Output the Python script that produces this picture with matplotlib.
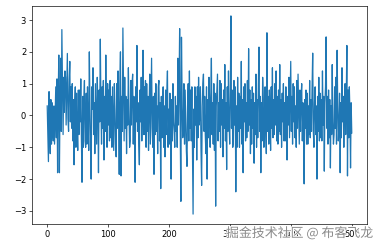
import matplotlib
matplotlib.use("Agg")
import matplotlib.pyplot as plt
import matplotlib.patheffects as pe

values = [
    0.3, -0.6, -1.45, 0.75, -0.4, -1.2, 0.5, -0.9, 0.4, -0.5,
    -0.8, 0.3, -0.9, 0.0, 0.9, -0.7, 1.15, -1.8, 0.6, 1.9,
    -1.8, 0.5, 1.8, -0.5, 2.7, 0.9, -0.6, 1.2, 0.1, 1.4,
    1.2, -0.3, 0.8, 1.95, -0.1, -0.5, 1.1, 1.7, -0.2, 0.9,
    -0.4, 1.0, -0.8, 0.5, -1.55, 0.3, 0.9, -1.0, 0.7, -0.3,
    -1.1, 0.8, -0.6, 0.8, -0.2, 1.15, -0.7, -2.1, 0.6, -1.0,
    0.5, 1.1, -0.8, -1.0, 0.7, -0.9, 0.9, -0.3, -1.1, 2.0,
    0.3, -1.0, -2.0, 0.9, 0.2, 1.5, -0.6, 0.4, -1.2, 1.0,
    0.0, -0.9, 1.2, 0.3, -1.8, 0.8, -0.2, 2.4, 0.3, -0.9,
    0.9, -0.4, 1.1, -1.4, 0.6, -0.5, 1.9, 0.0, -1.0, 1.0,
    -0.3, 0.8, -0.8, 1.1, -0.7, 0.6, -1.0, 0.9, -0.2, -1.1,
    1.0, 0.2, -0.9, -1.3, 1.0, -0.4, 1.4, 0.1, -1.85, 0.9,
    2.0, -1.9, 0.6, -0.5, 2.75, 0.8, -0.8, 1.2, -0.4, 0.6,
    -1.2, 0.5, -0.3, 1.5, 0.1, -1.0, -0.8, 1.1, -0.3, 1.0,
    1.3, -0.9, 0.6, -0.6, -2.1, 0.9, -0.2, 2.2, -0.5, 0.4,
    -0.9, -1.55, 0.8, -0.2, 1.2, -0.8, 0.5, 2.05, -0.6, 0.9,
    -0.6, 1.1, -1.0, 1.0, -0.5, 0.6, -1.1, 0.3, 1.3, -0.9,
    0.5, 1.8, -0.4, -1.0, 0.6, -1.85, 0.7, -0.6, 1.0, -0.5,
    0.3, -1.2, 0.9, 1.1, -0.8, 0.4, -2.3, 0.6, -0.7, 0.2,
    0.9, -1.0, 0.3, -1.3, 0.8, -0.6, 0.7, 1.4, -1.0, 0.2,
    -0.9, 0.7, -0.4, -2.0, 0.5, -0.8, 1.0, -0.2, -0.5, -1.0,
    0.6, -0.5, 0.3, -1.0, 1.8, -0.3, 0.9, 2.73, -0.6, -2.7,
    2.46, 0.6, -0.7, -0.5, 1.0, -0.9, 0.8, -0.2, -1.1, -1.6,
    0.3, 1.0, -0.8, 1.4, -0.4, 0.8, -0.8, 0.9, -1.2, -3.1,
    0.2, -1.0, 0.9, -0.3, 0.6, -1.4, 0.9, -0.7, 1.2, -0.3,
    0.0, 0.9, -1.1, -2.2, 0.3, 1.0, 1.3, -0.5, 0.6, -0.6,
    -1.2, 0.9, -2.0, 0.5, -0.7, 1.2, 0.5, -1.0, 0.6, 1.8,
    -0.6, 0.4, -0.9, 1.0, -1.1, 0.7, -2.85, 0.3, 0.8, 1.3,
    -0.8, 0.4, -0.5, 1.1, -1.0, 1.0, -0.3, 0.5, -1.3, 0.8,
    -0.4, 1.6, -0.8, 0.4, -1.7, 0.9, -0.5, 1.4, -0.2, -0.9,
    0.6, 3.13, -0.4, 0.8, -1.0, -0.8, 1.1, -0.3, 0.9, -2.4,
    0.3, -1.0, 1.2, -0.5, 0.7, -1.0, 0.6, -0.4, 1.7, -0.9,
    0.5, -1.8, 0.9, -0.2, 1.0, -0.8, 0.4, -0.7, 1.1, -0.5,
    2.1, -0.3, 0.8, -1.2, 0.5, -0.9, 0.9, -0.4, 0.7, -1.5,
    0.4, -0.6, 1.3, -1.0, 0.5, -0.7, 1.0, 2.15, -0.5, 0.6,
    -1.8, 0.4, -0.8, 1.2, 0.5, -1.0, -0.5, 0.9, -0.4, -1.2,
    2.6, -0.5, 0.6, -0.9, 0.8, 0.0, -1.1, 0.9, -0.4, 1.5,
    -0.7, 0.5, -0.6, 1.0, -0.3, 1.4, -0.8, 0.6, -0.9, 0.8,
    -0.5, 1.6, -0.6, 0.5, -1.0, 0.7, -0.2, 1.0, -0.8, 0.4,
    -0.8, 0.9, -0.4, -1.4, 0.6, -0.3, 1.2, -0.7, 0.4, 1.7,
    -0.5, 0.6, -0.9, 1.0, -0.2, 0.9, -0.7, 0.3, -1.0, 1.1,
    -0.4, 1.3, 0.2, -0.9, 0.8, -0.5, 0.6, 1.0, -0.8, 0.4,
    -0.6, -2.15, 0.5, -0.4, 0.8, -0.9, 0.7, -0.9, 0.3, -0.6,
    1.1, -0.7, 0.5, -0.5, 0.9, 1.96, -0.5, -1.0, 0.4, 0.9,
    -0.6, 0.3, -2.0, 0.6, -0.5, 1.2, -0.8, 0.7, -0.7, 0.5,
    -0.8, 1.4, -0.3, 0.6, -1.75, 0.4, 0.9, 2.47, -0.4, 0.6,
    -0.9, 0.8, -0.7, 0.5, -1.65, 0.3, -0.6, 1.6, -0.2, -0.9,
    -0.6, 0.9, -0.4, 1.2, -0.9, 2.05, 0.3, -0.8, -0.3, 0.7,
    -1.8, 0.4, -0.7, 1.5, -0.2, 0.6, -1.0, 0.5, 1.0, -0.6,
    0.6, 2.2, -1.9, 0.8, -0.7, 0.9, 0.1, -1.65, 0.4, -0.55,
]
xs = list(range(len(values)))
x_ticks = [0, 100, 200, 300, 400, 500]
y_ticks = [-3, -2, -1, 0, 1, 2, 3]
watermark = "掘金技术社区 @ 布客飞龙"

fig = plt.figure(figsize=(6.4, 4.15), dpi=60)
ax = fig.add_axes([0.0833, 0.1004, 0.8724, 0.8755])
ax.plot(xs, values, color="#1f77b4", linewidth=1.5)
ax.set_xticks(x_ticks)
ax.set_yticks(y_ticks)

fig.text(226 / 384, 1 - 233 / 249, watermark, fontsize=15.5, va="center",
         family=["Noto Sans CJK SC", "DejaVu Sans"], color="#8a8a8a",
         path_effects=[pe.withStroke(linewidth=2, foreground="white")])

fig.savefig("out.png", dpi=60)
